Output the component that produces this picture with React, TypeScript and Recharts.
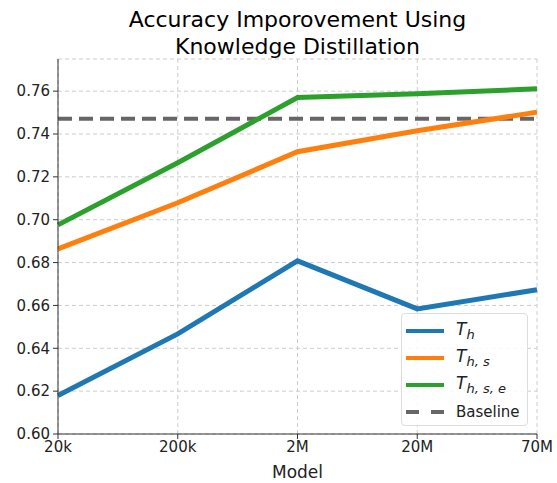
import { LineChart, Line, XAxis, YAxis, CartesianGrid, ReferenceLine } from "recharts";

const MODELS = ["20k", "200k", "2M", "20M", "70M"];
const T_H = [0.618, 0.6467, 0.6808, 0.6584, 0.6673];
const T_HS = [0.6864, 0.7079, 0.7317, 0.7415, 0.7502];
const T_HSE = [0.6976, 0.7266, 0.757, 0.7588, 0.7611];
const BASELINE = 0.7471;
const Y_TICKS = [0.6, 0.62, 0.64, 0.66, 0.68, 0.7, 0.72, 0.74, 0.76];

const data = MODELS.map((m, i) => ({ model: m, th: T_H[i], ths: T_HS[i], thse: T_HSE[i] }));

const FONT = "'DejaVu Sans', sans-serif";
const AXIS = "#333";

const SERIES = [
    { key: "th", color: "#1f77b4", sub: "h" },
    { key: "ths", color: "#ff7f0e", sub: "h, s" },
    { key: "thse", color: "#2ca02c", sub: "h, s, e" },
];

export default function App() {
    return (
        <div style={{ position: "fixed", left: 0, top: 0, width: 557, height: 483, background: "#fff", fontFamily: FONT }}>
            {/* title */}
            <div
                style={{
                    position: "absolute",
                    left: 58,
                    width: 479,
                    top: 6,
                    textAlign: "center",
                    fontSize: 22,
                    lineHeight: "27px",
                    color: "#000",
                }}
            >
                Accuracy Imporovement Using
                <br />
                Knowledge Distillation
            </div>

            <LineChart width={557} height={483} data={data} margin={{ top: 59, right: 20, bottom: 0, left: 8 }}>
                <CartesianGrid stroke="#ccc" strokeDasharray="4 3" />
                <XAxis
                    dataKey="model"
                    type="category"
                    height={49}
                    interval={0}
                    tickSize={5}
                    tickMargin={2}
                    stroke={AXIS}
                    tick={{ fill: "#222", fontSize: 15, fontFamily: FONT }}
                    label={{ value: "Model", position: "insideBottom", offset: 5, fill: "#222", fontSize: 17, fontFamily: FONT }}
                />
                <XAxis xAxisId="top" dataKey="model" orientation="top" stroke={AXIS} tick={false} tickLine={false} height={0} />
                <YAxis
                    width={50}
                    domain={[0.6, 0.775]}
                    ticks={Y_TICKS}
                    type="number"
                    allowDataOverflow
                    tickFormatter={(v: number) => v.toFixed(2)}
                    tickSize={5}
                    tickMargin={3}
                    stroke={AXIS}
                    tick={{ fill: "#222", fontSize: 15, fontFamily: FONT }}
                />
                <YAxis yAxisId="right" orientation="right" stroke={AXIS} tick={false} tickLine={false} width={0} />
                <ReferenceLine y={BASELINE} stroke="#666" strokeWidth={4} strokeDasharray="14 7" />
                {SERIES.map((s) => (
                    <Line
                        key={s.key}
                        dataKey={s.key}
                        stroke={s.color}
                        strokeWidth={5}
                        dot={false}
                        type="linear"
                        isAnimationActive={false}
                    />
                ))}
            </LineChart>

            {/* legend */}
            <div
                style={{
                    position: "absolute",
                    left: 401,
                    top: 313,
                    width: 127,
                    height: 113,
                    boxSizing: "border-box",
                    border: "1px solid #ddd",
                    borderRadius: 4,
                    background: "rgba(255,255,255,0.85)",
                    padding: "3px 0 0 4px",
                    color: "#222",
                }}
            >
                {SERIES.map((s) => (
                    <div key={s.key} style={{ display: "flex", alignItems: "center", height: 27 }}>
                        <div style={{ width: 38, height: 4, background: s.color, marginRight: 12 }} />
                        <span style={{ fontStyle: "italic", fontSize: 17 }}>
                            T<sub style={{ fontSize: 13 }}>{s.sub}</sub>
                        </span>
                    </div>
                ))}
                <div style={{ display: "flex", alignItems: "center", height: 27 }}>
                    <div style={{ width: 38, marginRight: 12, display: "flex", justifyContent: "space-between" }}>
                        <div style={{ width: 13, height: 4, background: "#666" }} />
                        <div style={{ width: 13, height: 4, background: "#666" }} />
                    </div>
                    <span style={{ fontSize: 15 }}>Baseline</span>
                </div>
            </div>
        </div>
    );
}
